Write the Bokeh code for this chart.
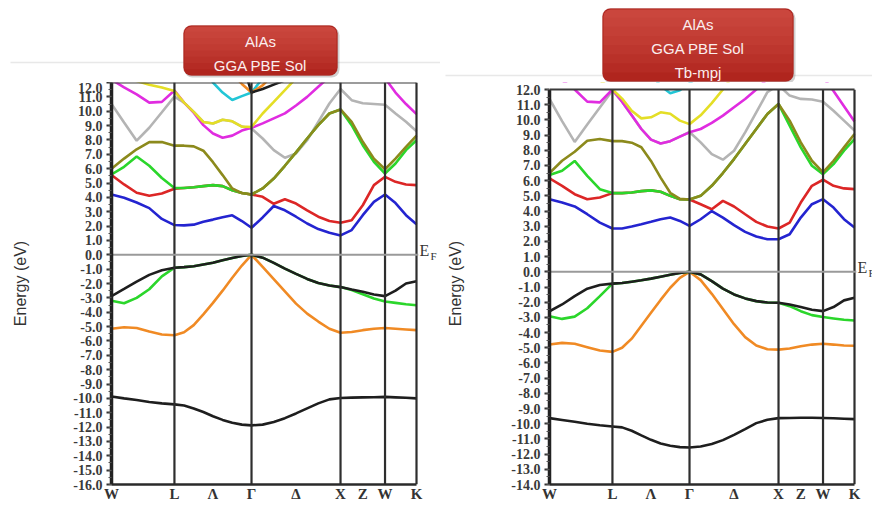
import numpy as np
from bokeh.plotting import figure
from bokeh.layouts import row, column
from bokeh.models import (Range1d, FixedTicker, SingleIntervalTicker, PrintfTickFormatter,
                          Label, BoxAnnotation)
from bokeh.embed import file_html
from bokeh.resources import INLINE

# ---------------- k-path (fcc, units of 2*pi/a) ----------------
K_NODES = [0.0, 0.7071, 1.5731, 2.5731, 3.0731, 3.4267]   # W L Gamma X W K
SEG_STEPS = [5, 8, 8, 4, 3]
TICK_POS = [0.0, 0.7071, 1.1401, 1.5731, 2.0731, 2.5731, 2.8231, 3.0731, 3.4267]
TICK_LABELS = ["W", "L", "Λ", "Γ", "Δ", "X", "Z", "W", "K"]
VLINES = [0.7071, 1.5731, 2.5731, 3.0731, 3.4267]

# ---------------- Left panel: GGA PBE Sol ----------------
L_LOW = [-9.87, -10.0, -10.12, -10.25, -10.35, -10.42,
         -10.5, -10.7, -10.95, -11.25, -11.5, -11.7, -11.83, -11.88,
         -11.83, -11.65, -11.38, -11.05, -10.7, -10.35, -10.07, -9.97,
         -9.95, -9.93, -9.92, -9.9,
         -9.93, -9.96, -10.0]
L_VB_OR = [-5.15, -5.05, -5.1, -5.35, -5.55, -5.6,
           -5.4, -4.9, -4.15, -3.35, -2.5, -1.6, -0.75, 0.0,
           -0.85, -1.7, -2.55, -3.4, -4.1, -4.65, -5.15, -5.43,
           -5.38, -5.25, -5.15, -5.1,
           -5.15, -5.2, -5.25]
L_VB_GR = [-3.2, -3.38, -3.0, -2.4, -1.5, -0.9,
           -0.86, -0.8, -0.68, -0.56, -0.38, -0.22, -0.08, 0.0,
           -0.2, -0.56, -0.96, -1.33, -1.68, -1.96, -2.14, -2.25,
           -2.45, -2.75, -3.05, -3.25,
           -3.35, -3.45, -3.52]
L_VB_BK = [-2.88, -2.38, -1.87, -1.4, -1.08, -0.9,
           -0.86, -0.8, -0.68, -0.56, -0.38, -0.22, -0.08, 0.0,
           -0.2, -0.56, -0.96, -1.33, -1.68, -1.96, -2.14, -2.25,
           -2.42, -2.58, -2.77, -2.88,
           -2.5, -2.0, -1.85]
L_BLUE = [4.2, 3.97, 3.64, 3.25, 2.5, 2.07,
          2.05, 2.1, 2.3, 2.45, 2.62, 2.75, 2.35, 1.88,
          2.6, 3.4, 3.1, 2.65, 2.18, 1.79, 1.53, 1.35,
          1.72, 2.76, 3.69, 4.2,
          3.6, 2.76, 2.13]
L_RED = [5.55, 4.9, 4.32, 4.11, 4.27, 4.6,
         4.65, 4.7, 4.78, 4.85, 4.78, 4.5, 4.3, 4.2,
         4.04, 3.55, 3.87, 3.57, 3.1, 2.65, 2.35, 2.23,
         2.4, 3.45, 4.85, 5.43,
         5.08, 4.9, 4.85]
L_GREEN = [5.6, 6.13, 6.85, 6.2, 5.35, 4.65,
           4.65, 4.7, 4.78, 4.85, 4.78, 4.5, 4.3, 4.2,
           4.62, 5.31, 6.2, 7.13, 8.1, 9.03, 9.84, 10.12,
           9.03, 7.63, 6.48, 5.66,
           6.36, 7.29, 7.98]
L_OLIVE = [6.0, 6.7, 7.35, 7.85, 7.85, 7.6,
           7.6, 7.55, 7.25, 6.45, 5.55, 4.62, 4.3, 4.2,
           4.62, 5.31, 6.2, 7.13, 8.1, 9.03, 9.84, 10.12,
           9.26, 7.87, 6.7, 5.96,
           6.7, 7.52, 8.29]
L_GRAY = [10.51, 9.22, 7.95, 8.85, 9.93, 11.02,
          10.6, 9.95, 9.25, 9.15, 9.4, 9.3, 8.93, 8.8,
          8.1, 7.29, 6.76, 7.06, 7.98, 9.26, 10.54, 11.55,
          10.77, 10.55, 10.5, 10.45,
          9.84, 9.26, 8.6]
L_MAG = [12.2, 11.66, 11.17, 10.6, 10.65, 11.44,
         10.6, 9.9, 9.03, 8.45, 8.15, 8.3, 8.65, 8.84,
         9.15, 9.5, 9.85, 10.4, 11.0, 11.7, 12.4, 13.0,
         13.2, 13.2, 13.0, 12.3,
         11.3, 10.5, 9.8]
L_YEL = [12.6, 12.3, 12.1, 11.85, 11.65, 11.4,
         10.6, 9.95, 9.25, 9.15, 9.4, 9.3, 8.93, 8.9,
         9.84, 10.65, 11.47, 12.3, 13.0, 13.0, 13.0, 13.0,
         13.0, 13.0, 13.0, 13.0,
         13.0, 13.0, 13.0]
L_CYAN = [13.0, 13.0, 13.0, 13.0, 13.0, 13.0,
          13.0, 13.0, 13.0, 12.0, 11.3, 10.78, 11.05, 11.3,
          12.3, 13.0, 13.0, 13.0, 13.0, 13.0, 13.0, 13.0,
          13.0, 13.0, 13.0, 13.0,
          13.0, 13.0, 13.0]
L_ORHI = [13.0, 13.0, 13.0, 13.0, 13.0, 13.0,
          13.0, 13.0, 13.0, 13.0, 13.0, 12.6, 11.9, 11.3,
          11.8, 12.6, 13.0, 13.0, 13.0, 13.0, 13.0, 13.0,
          13.0, 13.0, 13.0, 13.0,
          13.0, 13.0, 13.0]
L_BKHI = [13.5, 13.5, 13.5, 13.5, 13.5, 13.5,
          13.5, 13.5, 13.5, 13.5, 13.5, 13.5, 13.5, 11.3,
          11.55, 11.85, 12.15, 13.0, 13.0, 13.0, 13.0, 13.0,
          13.0, 13.0, 13.0, 13.0,
          13.0, 13.0, 13.0]

# ---------------- Right panel: GGA PBE Sol + TB-mBJ ----------------
R_LOW = [-9.63, -9.75, -9.87, -10.0, -10.1, -10.18,
         -10.24, -10.46, -10.77, -11.06, -11.3, -11.45, -11.54, -11.56,
         -11.5, -11.34, -11.08, -10.73, -10.35, -9.96, -9.74, -9.63,
         -9.62, -9.61, -9.61, -9.62,
         -9.64, -9.67, -9.7]
R_VB_OR = [-4.79, -4.68, -4.74, -4.96, -5.18, -5.27,
           -5.0, -4.4, -3.55, -2.7, -1.85, -1.05, -0.4, 0.0,
           -0.55, -1.45, -2.45, -3.45, -4.3, -4.85, -5.1, -5.12,
           -5.05, -4.9, -4.79, -4.74,
           -4.79, -4.85, -4.87]
R_VB_GR = [-2.92, -3.1, -2.95, -2.4, -1.6, -0.78,
           -0.74, -0.65, -0.56, -0.45, -0.32, -0.19, -0.08, 0.0,
           -0.17, -0.61, -1.11, -1.49, -1.75, -1.93, -2.02, -2.04,
           -2.26, -2.59, -2.85, -2.98,
           -3.07, -3.16, -3.2]
R_VB_BK = [-2.6, -2.15, -1.6, -1.11, -0.87, -0.78,
           -0.74, -0.65, -0.56, -0.45, -0.32, -0.19, -0.08, 0.0,
           -0.17, -0.61, -1.11, -1.49, -1.75, -1.93, -2.02, -2.04,
           -2.15, -2.32, -2.5, -2.59,
           -2.32, -1.88, -1.71]
R_BLUE = [4.78, 4.56, 4.3, 3.79, 3.24, 2.85,
          2.85, 2.98, 3.13, 3.29, 3.46, 3.57, 3.35, 3.02,
          3.46, 4.0, 3.57, 3.07, 2.63, 2.32, 2.14, 2.14,
          2.47, 3.57, 4.45, 4.78,
          4.23, 3.46, 2.91]
R_RED = [6.15, 5.66, 5.11, 4.78, 4.89, 5.18,
         5.18, 5.22, 5.31, 5.36, 5.27, 5.0, 4.78, 4.76,
         4.45, 4.12, 4.67, 4.3, 3.79, 3.29, 2.98, 2.85,
         3.24, 4.56, 5.66, 6.06,
         5.66, 5.49, 5.44]
R_GREEN = [6.37, 6.65, 7.3, 6.32, 5.44, 5.18,
           5.18, 5.22, 5.31, 5.36, 5.27, 5.0, 4.78, 4.76,
           5.0, 5.66, 6.5, 7.42, 8.41, 9.4, 10.39, 11.05,
           9.62, 8.19, 6.98, 6.43,
           7.09, 7.97, 8.74]
R_OLIVE = [6.5, 7.31, 7.9, 8.63, 8.74, 8.6,
           8.6, 8.5, 8.2, 7.3, 6.2, 5.2, 4.8, 4.76,
           5.0, 5.66, 6.5, 7.42, 8.41, 9.4, 10.39, 11.05,
           9.95, 8.52, 7.31, 6.54,
           7.31, 8.19, 9.07]
R_GRAY = [11.38, 9.92, 8.55, 9.69, 10.81, 11.93,
          11.2, 10.3, 9.4, 8.7, 8.45, 8.6, 8.9, 9.2,
          8.52, 7.75, 7.38, 7.97, 9.18, 10.5, 11.82, 12.3,
          11.6, 11.38, 11.34, 11.2,
          10.6, 9.95, 9.3]
R_MAG = [13.0, 12.6, 12.0, 11.2, 11.15, 12.0,
         11.2, 10.3, 9.4, 8.7, 8.45, 8.6, 8.9, 9.18,
         9.4, 9.8, 10.28, 10.83, 11.38, 12.0, 12.7, 13.3,
         13.5, 13.5, 13.3, 12.8,
         11.9, 10.9, 9.9]
R_YEL = [13.0, 13.0, 13.0, 13.0, 12.6, 12.0,
         11.4, 10.6, 10.1, 10.17, 10.5, 10.4, 9.95, 9.72,
         10.3, 11.1, 12.0, 13.0, 13.0, 13.0, 13.0, 13.0,
         13.0, 13.0, 13.0, 13.0,
         13.0, 13.0, 13.0]
R_CYAN = [13.0, 13.0, 13.0, 13.0, 13.0, 13.0,
          13.0, 13.0, 13.0, 13.0, 12.25, 11.75, 11.95, 12.4,
          13.0, 13.0, 13.0, 13.0, 13.0, 13.0, 13.0, 13.0,
          13.0, 13.0, 13.0, 13.0,
          13.0, 13.0, 13.0]

TITLE_LEFT = ["AlAs", "GGA PBE Sol"]
TITLE_RIGHT = ["AlAs", "GGA PBE Sol", "Tb-mpj"]

COLORS = {
    "gray": "#b4b4b4", "magenta": "#e02ce0", "yellow": "#e4de26", "cyan": "#22c6d6",
    "orange": "#f08a24", "black": "#1e1e1e", "red": "#dc2626", "blue": "#2424d0",
    "green": "#2bd62b", "olive": "#8c8a1c",
}

STRIP_H = 82
PANEL_H = 508 - STRIP_H
BOTTOM_BORDER = 24


def kgrid():
    pts = [K_NODES[0]]
    for i, n in enumerate(SEG_STEPS):
        seg = np.linspace(K_NODES[i], K_NODES[i + 1], n + 1)[1:]
        pts.extend(seg.tolist())
    return pts


def title_strip(width, lines, box, line_ys, rule_y, rule_x0):
    t = figure(width=width, height=STRIP_H, output_backend="svg", toolbar_location=None,
               x_range=Range1d(0, width), y_range=Range1d(0, STRIP_H),
               min_border=0, min_border_left=0, min_border_right=0,
               min_border_top=0, min_border_bottom=0,
               background_fill_color="white", border_fill_color="white")
    t.axis.visible = False
    t.grid.visible = False
    t.outline_line_color = None
    H = STRIP_H
    t.segment(x0=[rule_x0], y0=[H - rule_y], x1=[width], y1=[H - rule_y],
              line_color="#e8e8e8", line_width=1.5)
    l, r, top, bot = box
    # soft shadow
    t.add_layout(BoxAnnotation(left=l + 1, right=r + 2, bottom=H - bot - 2, top=H - top - 2,
                               fill_color="#7a7a7a", fill_alpha=0.35, line_alpha=0,
                               border_radius=8))
    # body
    t.add_layout(BoxAnnotation(left=l, right=r, bottom=H - bot, top=H - top,
                               fill_color="#b0251e", fill_alpha=1.0,
                               line_color="#9e211b", line_width=1, border_radius=8))
    # vertical gradient, lighter at the top
    hgt = bot - top
    nsteps = 7
    for i in range(nsteps):
        frac = (i + 1) / (nsteps + 1)
        t.add_layout(BoxAnnotation(left=l + 1, right=r - 1, bottom=H - (top + hgt * frac),
                                   top=H - top - 1, fill_color="#ec6a60", fill_alpha=0.09,
                                   line_alpha=0, border_radius=(7, 7, 0, 0)))
    cx = (l + r) / 2
    for txt, yy in zip(lines, line_ys):
        t.add_layout(Label(x=cx, y=H - yy, text=txt, text_align="center",
                           text_baseline="middle", text_font="Liberation Sans",
                           text_font_size="15px", text_color="#fbeeee"))
    return t


def make_panel(width, border_l, gap_top, ymin, ymax, bands, label_std):
    # gap_top: pixels between the strip and the E = ymax line
    frame_w = width - border_l
    frame_h = PANEL_H - BOTTOM_BORDER
    kmax = K_NODES[-1] * frame_w / 305.0
    px_per_unit = (frame_h - gap_top) / (ymax - ymin)
    y_top = ymax + gap_top / px_per_unit
    p = figure(width=width, height=PANEL_H, output_backend="svg", toolbar_location=None,
               x_range=Range1d(K_NODES[0], kmax), y_range=Range1d(ymin, y_top),
               min_border_left=border_l, min_border_right=0, min_border_top=0,
               min_border_bottom=BOTTOM_BORDER,
               background_fill_color="white", border_fill_color="white")
    p.grid.visible = False
    p.outline_line_color = None

    k = kgrid()
    for vals, col in bands:
        p.line(k, vals, color=COLORS[col], line_width=2.6)

    p.segment(x0=VLINES, y0=[ymin] * len(VLINES), x1=VLINES, y1=[ymax] * len(VLINES),
              line_color="#2e2e2e", line_width=2.2)
    # Fermi level
    p.segment(x0=[K_NODES[0]], y0=[0.0], x1=[K_NODES[-1] + 0.02], y1=[0.0],
              line_color="#9a9a9a", line_width=2)

    # hide anything above the top of the energy window, then draw the top edge
    p.add_layout(BoxAnnotation(bottom=ymax, fill_color="white", fill_alpha=1.0, line_alpha=0))
    d = 1.0 / px_per_unit
    p.add_layout(BoxAnnotation(left=K_NODES[0], right=K_NODES[-1] + 0.5 * d * 0.011,
                               bottom=ymax - d, top=ymax + d,
                               fill_color="#3a3a3a", fill_alpha=1.0, line_alpha=0))

    # x axis
    xa = p.xaxis[0]
    xa.ticker = FixedTicker(ticks=TICK_POS)
    xa.major_label_overrides = {t: s for t, s in zip(TICK_POS, TICK_LABELS)}
    xa.bounds = (K_NODES[0], K_NODES[-1])
    xa.major_tick_out = 0
    xa.major_tick_in = 0
    xa.minor_tick_out = 0
    xa.axis_line_width = 2.5
    xa.axis_line_color = "#2a2a2a"
    xa.major_label_standoff = 1
    xa.major_label_text_font = "Liberation Serif"
    xa.major_label_text_font_size = "15px"
    xa.major_label_text_font_style = "bold"
    xa.major_label_text_color = "#333333"

    # y axis
    ya = p.yaxis[0]
    ya.ticker = SingleIntervalTicker(interval=1, num_minor_ticks=2)
    ya.formatter = PrintfTickFormatter(format="%.1f")
    ya.bounds = (ymin, ymax)
    ya.axis_line_width = 3.5
    ya.axis_line_color = "#222222"
    ya.major_tick_out = 5
    ya.major_tick_in = 0
    ya.major_tick_line_width = 2
    ya.major_tick_line_color = "#333333"
    ya.minor_tick_out = 3
    ya.minor_tick_in = 0
    ya.minor_tick_line_color = "#555555"
    ya.major_label_standoff = 4
    ya.major_label_text_font = "Liberation Serif"
    ya.major_label_text_font_size = "14px"
    ya.major_label_text_font_style = "bold"
    ya.major_label_text_color = "#3a3a3a"
    ya.axis_label = "Energy (eV)"
    ya.axis_label_text_font = "Liberation Sans"
    ya.axis_label_text_font_size = "16px"
    ya.axis_label_text_font_style = "normal"
    ya.axis_label_text_color = "#333333"
    ya.axis_label_standoff = label_std

    # Fermi level label E_F
    p.add_layout(Label(x=K_NODES[-1], y=0.0, x_offset=3, y_offset=4, text="E",
                       text_font="Liberation Serif", text_font_size="16px",
                       text_color="#333333", text_baseline="middle"))
    p.add_layout(Label(x=K_NODES[-1], y=0.0, x_offset=14, y_offset=-1, text="F",
                       text_font="Liberation Serif", text_font_size="11px",
                       text_color="#333333", text_baseline="middle"))
    return p


left_bands = [(L_LOW, "black"), (L_VB_OR, "orange"), (L_VB_GR, "green"), (L_VB_BK, "black"),
              (L_GRAY, "gray"), (L_MAG, "magenta"), (L_YEL, "yellow"), (L_CYAN, "cyan"),
              (L_ORHI, "orange"), (L_BKHI, "black"),
              (L_RED, "red"), (L_BLUE, "blue"), (L_GREEN, "green"), (L_OLIVE, "olive")]
right_bands = [(R_LOW, "black"), (R_VB_OR, "orange"), (R_VB_GR, "green"), (R_VB_BK, "black"),
               (R_GRAY, "gray"), (R_MAG, "magenta"), (R_YEL, "yellow"), (R_CYAN, "cyan"),
               (R_RED, "red"), (R_BLUE, "blue"), (R_GREEN, "green"), (R_OLIVE, "olive")]

t1 = title_strip(440, TITLE_LEFT, (183, 337, 25, 75), [41, 65], 62, 10)
t2 = title_strip(432, TITLE_RIGHT, (162, 353, 8, 81), [24, 48, 72], 75, 5)

p1 = make_panel(440, 111, 0, -16, 12, left_bands, 41)
p2 = make_panel(432, 109, 7, -14, 12, right_bands, 44)

layout = column(row(t1, t2), row(p1, p2))
open("out.html", "w").write(file_html(layout, INLINE))
